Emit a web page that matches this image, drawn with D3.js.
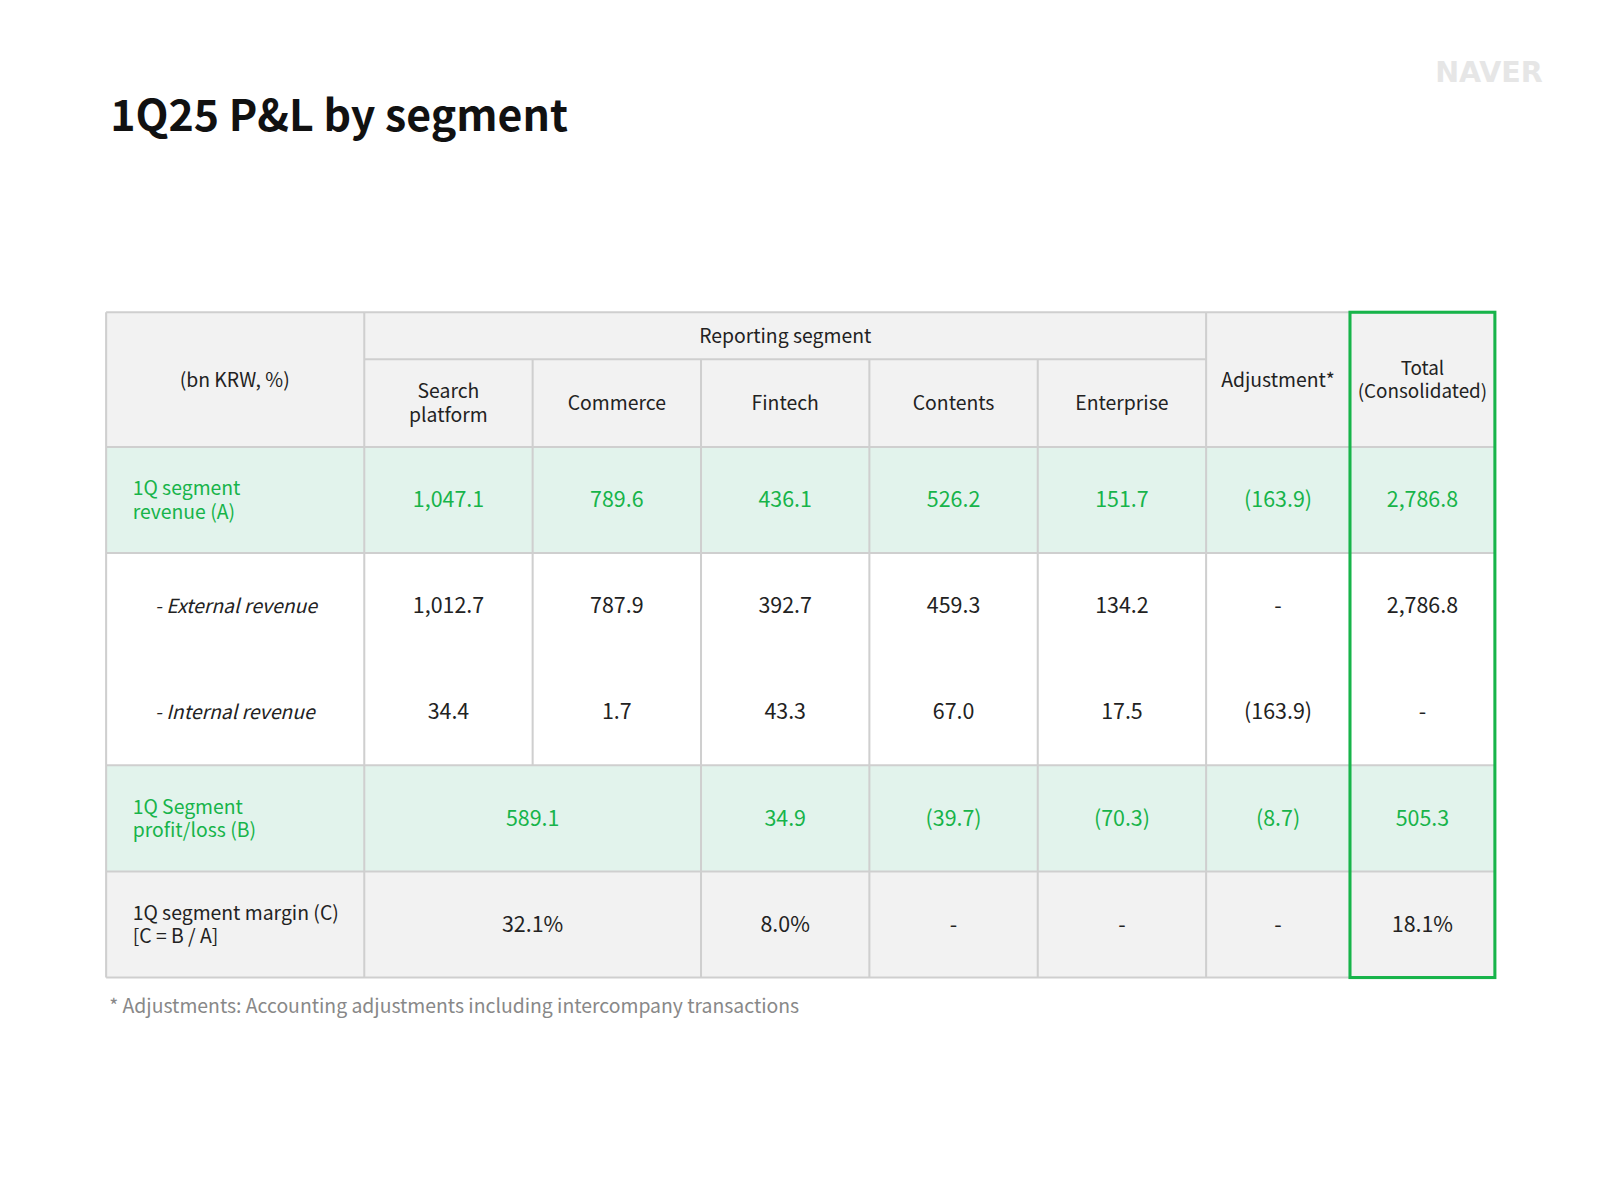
<!DOCTYPE html>
<html><head><meta charset="utf-8">
<script src="https://cdn.jsdelivr.net/npm/d3@7"></script>
<style>body{margin:0;background:#fff}svg{font-family:"Noto Sans CJK KR","Noto Sans",sans-serif}</style>
</head><body><svg id="c" width="1600" height="1200"></svg>
<script>
const segments=["Search\nplatform","Commerce","Fintech","Contents","Enterprise"];
const rowLabels=["1Q segment\nrevenue (A)","- External revenue","- Internal revenue","1Q Segment\nprofit/loss (B)","1Q segment margin (C)\n[C = B / A]"];
const revenue=["1,047.1","789.6","436.1","526.2","151.7","(163.9)","2,786.8"];
const external=["1,012.7","787.9","392.7","459.3","134.2","-","2,786.8"];
const internal=["34.4","1.7","43.3","67.0","17.5","(163.9)","-"];
const profit=["589.1","34.9","(39.7)","(70.3)","(8.7)","505.3"];
const margin=["32.1%","8.0%","-","-","-","18.1%"];

const root=d3.select("#c");
const svg=root.append("g").attr("transform","scale(1.0204)");
const G="#17b44a",GBG="#e2f3ec",GRAY="#f2f2f2",LINE="#cfcfcf";
const colX=[104,357,522,687,852,1017,1182,1323,1465];
const rowY=[306,352,438,542,646,750,854,958];
svg.append("text").attr("x",108).attr("y",128).attr("font-size",42).attr("font-weight",700).attr("fill","#111").text("1Q25 P&L by segment");
svg.append("text").attr("x",1512).attr("y",80).attr("text-anchor","end").attr("font-size",28).attr("font-weight",900).attr("fill","#e6e6e6").attr("font-family","DejaVu Sans,sans-serif").text("NAVER");

function rect(x0,x1,y0,y1,fill){svg.append("rect").attr("x",x0).attr("y",y0).attr("width",x1-x0).attr("height",y1-y0).attr("fill",fill);}
rect(104,1465,306,438,GRAY);
rect(104,1465,438,542,GBG);
rect(104,1465,750,854,GBG);
rect(104,1465,854,958,GRAY);

function txt(x,y,s,o={}){const lines=s.split("\n");const lh=o.lh||23;
 lines.forEach((l,i)=>svg.append("text").attr("x",x).attr("y",y+(i-(lines.length-1)/2)*lh+7)
  .attr("text-anchor",o.anchor||"middle").attr("font-size",o.size||19).attr("fill",o.fill||"#222")
  .attr("font-style",o.italic?"italic":null).text(l));}
const mid=i=>(colX[i]+colX[i+1])/2;
const rmid=(a,b)=>(rowY[a]+rowY[b])/2;
txt(230,rmid(0,2),"(bn KRW, %)");
txt((colX[1]+colX[6])/2,rmid(0,1),"Reporting segment");
segments.forEach((s,i)=>txt(mid(i+1),rmid(1,2),s));
txt(mid(6),rmid(0,2),"Adjustment*");
txt(mid(7),rmid(0,2),"Total\n(Consolidated)",{size:18.5});
txt(130,rmid(2,3),rowLabels[0],{anchor:"start",fill:G});
txt(152,rmid(3,4),rowLabels[1],{anchor:"start",italic:true});
txt(152,rmid(4,5),rowLabels[2],{anchor:"start",italic:true});
txt(130,rmid(5,6),rowLabels[3],{anchor:"start",fill:G});
txt(130,rmid(6,7),rowLabels[4],{anchor:"start"});
revenue.forEach((v,i)=>txt(mid(i+1),rmid(2,3),v,{fill:G,size:21}));
external.forEach((v,i)=>txt(mid(i+1),rmid(3,4),v,{size:21}));
internal.forEach((v,i)=>txt(mid(i+1),rmid(4,5),v,{size:21}));
const mergedX=[(colX[1]+colX[3])/2,mid(3),mid(4),mid(5),mid(6),mid(7)];
profit.forEach((v,i)=>txt(mergedX[i],rmid(5,6),v,{fill:G,size:21}));
margin.forEach((v,i)=>txt(mergedX[i],rmid(6,7),v,{size:21}));
function line(x1,y1,x2,y2,c=LINE,w=2){svg.append("line").attr("x1",x1).attr("y1",y1).attr("x2",x2).attr("y2",y2).attr("stroke",c).attr("stroke-width",w);}
line(104,306,1465,306);line(104,958,1465,958);
line(357,352,1182,352);
[438,542,750,854].forEach(y=>line(104,y,1465,y));
line(104,306,104,958);
line(357,306,357,958);
line(522,352,522,750);
[687,852,1017].forEach(x=>line(x,352,x,958));
line(1182,306,1182,958);
svg.append("rect").attr("x",1323).attr("y",306).attr("width",142).attr("height",652).attr("fill","none").attr("stroke",G).attr("stroke-width",3);
svg.append("text").attr("x",107).attr("y",993).attr("font-size",19).attr("fill","#888").text("* Adjustments: Accounting adjustments including intercompany transactions");
</script></body></html>
